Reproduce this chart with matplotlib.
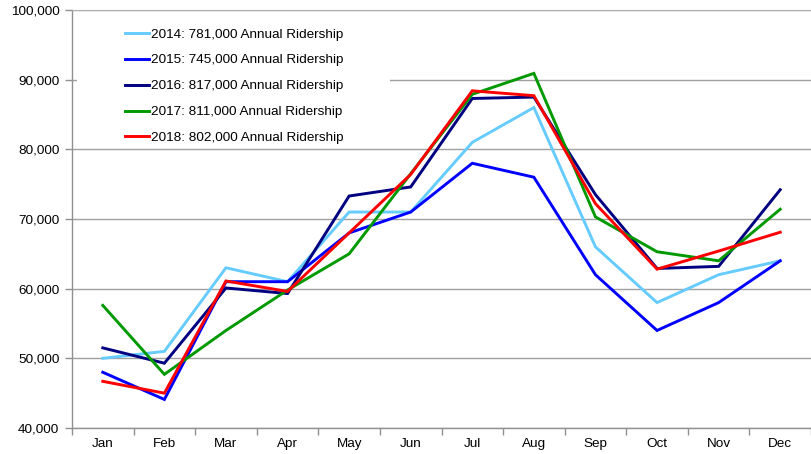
import matplotlib
matplotlib.use("Agg")
import matplotlib.pyplot as plt
from matplotlib.ticker import FuncFormatter, FixedLocator
from matplotlib.patches import Rectangle

months = ["Jan", "Feb", "Mar", "Apr", "May", "Jun", "Jul", "Aug", "Sep", "Oct", "Nov", "Dec"]

labels = [
    "2014: 781,000 Annual Ridership",
    "2015: 745,000 Annual Ridership",
    "2016: 817,000 Annual Ridership",
    "2017: 811,000 Annual Ridership",
    "2018: 802,000 Annual Ridership",
]
y2014 = [50000, 51000, 63000, 61000, 71000, 71000, 81000, 86000, 66000, 58000, 62000, 64000]
y2015 = [48000, 44100, 61000, 61000, 68000, 71000, 78000, 76000, 62000, 54000, 58000, 64000]
y2016 = [51500, 49300, 60100, 59300, 73300, 74600, 87300, 87500, 73500, 62900, 63200, 74200]
y2017 = [57600, 47700, 54000, 59800, 65000, 76500, 87900, 90900, 70300, 65300, 64000, 71400]
y2018 = [46700, 45000, 61100, 59600, 68000, 76400, 88400, 87700, 72200, 62800, 65400, 68100]
series = [y2014, y2015, y2016, y2017, y2018]
colors = ["#66ccff", "#0000ff", "#000080", "#009900", "#ff0000"]

plt.rcParams['font.family'] = ['Liberation Sans', 'DejaVu Sans']
fs = 9.7

fig = plt.figure(figsize=(8.11, 4.54), dpi=100)
ax = fig.add_axes([72/811, 26/454, (811-72)/811, (428-10)/454])

x = list(range(len(months)))
for ys, c, lab in zip(series, colors, labels):
    ax.plot(x, ys, color=c, lw=2.1, label=lab, solid_joinstyle='miter', zorder=3)

ax.set_xlim(-0.5, 11.5)
ax.set_ylim(40000, 100000)
ax.set_yticks(range(40000, 100001, 10000))
ax.yaxis.set_major_formatter(FuncFormatter(lambda v, p: f"{int(v):,}"))
ax.set_axisbelow(True)
ax.grid(axis='y', color='#a0a0a0', lw=1.0)

ax.set_xticks(x)
ax.set_xticklabels(months)
ax.xaxis.set_minor_locator(FixedLocator([i + 0.5 for i in range(-1, 12)]))
ax.tick_params(axis='x', which='major', length=0, pad=7, labelsize=fs)
ax.tick_params(axis='x', which='minor', length=5, color='#909090', width=1)
ax.tick_params(axis='y', which='major', length=5, color='#909090', width=1, labelsize=fs, pad=4)

ax.spines['right'].set_visible(False)
ax.spines['top'].set_color('#b0b0b0')
for s in ['left', 'bottom']:
    ax.spines[s].set_color('#909090')
    ax.spines[s].set_linewidth(1)

# white legend area covering gridlines
bg = Rectangle((77/811, 1 - 146/454), (390-77)/811, (146-12)/454,
               transform=fig.transFigure, facecolor='white', edgecolor='none', zorder=2)
ax.add_patch(bg)

leg = ax.legend(loc='upper left', bbox_to_anchor=(117/811, 1 - 20/454),
                bbox_transform=fig.transFigure, frameon=False, fontsize=fs,
                handlelength=1.75, handletextpad=0.15, labelspacing=1.0,
                borderpad=0.6, borderaxespad=0)
leg.set_zorder(5)

fig.savefig("out.png", dpi=100)
